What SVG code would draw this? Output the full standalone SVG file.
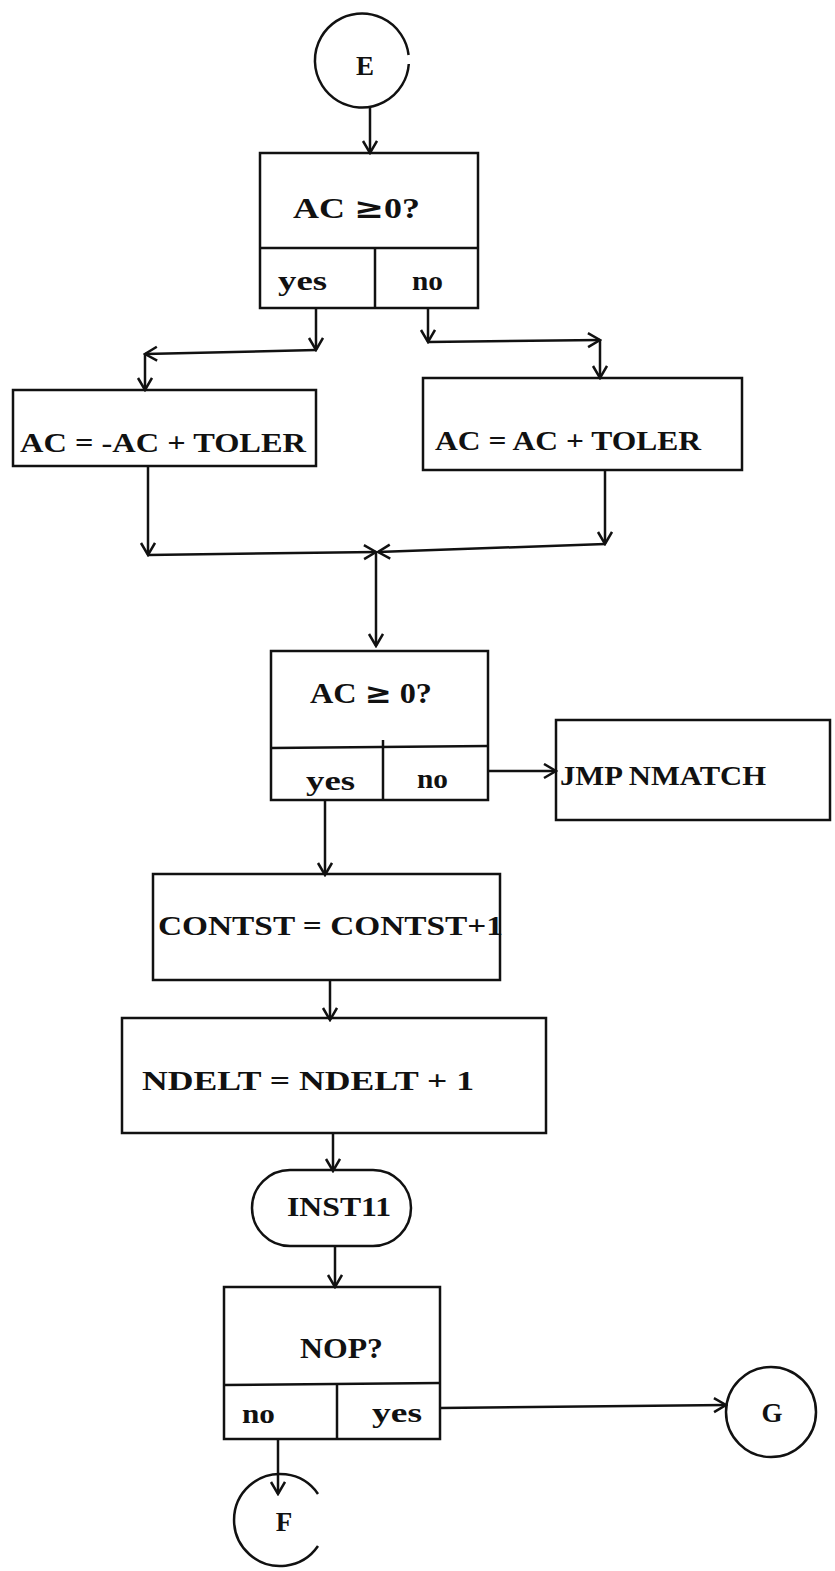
<svg xmlns="http://www.w3.org/2000/svg" width="835" height="1571" viewBox="0 0 835 1571">
<style>
.s{fill:none;stroke:#111;stroke-width:2.5}
.t{font-family:"Liberation Serif",serif;font-weight:bold;font-size:27px;fill:#111}
.q{font-family:"Liberation Serif",serif;font-weight:bold;font-size:29px;fill:#111}
.g{font-family:"DejaVu Serif",serif;font-weight:bold}
.l{font-family:"Liberation Serif",serif;font-weight:bold;font-size:27px;fill:#111}
.c{stroke:#111;stroke-width:2.5;fill:none;marker-end:url(#a)}
</style>
<defs>
<marker id="a" markerUnits="userSpaceOnUse" markerWidth="16" markerHeight="18" refX="14" refY="8" orient="auto">
<path d="M2,1 L14,8 L2,15" fill="none" stroke="#111" stroke-width="2.5"/>
</marker>
</defs>
<rect width="835" height="1571" fill="#fff"/>
<g id="E">
<path class="s" d="M408.8,64 A47,47 0 1 1 408.6,55"/>
<text class="l" x="365" y="75" text-anchor="middle" font-size="29">E</text>
</g>
<g id="dec1">
<rect class="s" x="260" y="153" width="218" height="155"/>
<line class="s" x1="260" y1="248" x2="478" y2="248"/>
<line class="s" x1="375" y1="248" x2="375" y2="308"/>
<text class="q" x="293" y="218" textLength="127" lengthAdjust="spacingAndGlyphs">AC <tspan class="g">≥</tspan>0?</text>
<text class="l" x="278" y="290" textLength="49" lengthAdjust="spacingAndGlyphs">yes</text>
<text class="l" x="412" y="290" textLength="31" lengthAdjust="spacingAndGlyphs">no</text>
</g>
<g id="left">
<rect class="s" x="13" y="390" width="303" height="76"/>
<text class="t" x="20" y="452" textLength="286" lengthAdjust="spacingAndGlyphs">AC = -AC + TOLER</text>
</g>
<g id="right">
<rect class="s" x="423" y="378" width="319" height="92"/>
<text class="t" x="435" y="450" textLength="266" lengthAdjust="spacingAndGlyphs">AC = AC + TOLER</text>
</g>
<g id="dec2">
<rect class="s" x="271" y="651" width="217" height="149"/>
<line class="s" x1="271" y1="748" x2="488" y2="746"/>
<line class="s" x1="383" y1="740" x2="383" y2="800"/>
<text class="q" x="310" y="703" textLength="122" lengthAdjust="spacingAndGlyphs">AC <tspan class="g">≥</tspan> 0?</text>
<text class="l" x="306" y="790" textLength="49" lengthAdjust="spacingAndGlyphs">yes</text>
<text class="l" x="417" y="788" textLength="31" lengthAdjust="spacingAndGlyphs">no</text>
</g>
<g id="jmp">
<rect class="s" x="556" y="720" width="274" height="100"/>
<text class="t" x="560" y="785" textLength="206" lengthAdjust="spacingAndGlyphs">JMP NMATCH</text>
</g>
<g id="contst">
<rect class="s" x="153" y="874" width="347" height="106"/>
<text class="t" x="158" y="935" textLength="345" lengthAdjust="spacingAndGlyphs">CONTST = CONTST+1</text>
</g>
<g id="ndelt">
<rect class="s" x="122" y="1018" width="424" height="115"/>
<text class="t" x="142" y="1090" textLength="332" lengthAdjust="spacingAndGlyphs">NDELT = NDELT + 1</text>
</g>
<g id="inst11">
<rect class="s" x="252" y="1170" width="159" height="76" rx="38" ry="38"/>
<text class="t" x="287" y="1216" textLength="104" lengthAdjust="spacingAndGlyphs">INST11</text>
</g>
<g id="nop">
<rect class="s" x="224" y="1287" width="216" height="152"/>
<line class="s" x1="224" y1="1385" x2="440" y2="1383"/>
<line class="s" x1="337" y1="1383" x2="337" y2="1439"/>
<text class="q" x="300" y="1358" textLength="83" lengthAdjust="spacingAndGlyphs">NOP?</text>
<text class="l" x="242" y="1423" textLength="33" lengthAdjust="spacingAndGlyphs">no</text>
<text class="l" x="372" y="1422" textLength="50" lengthAdjust="spacingAndGlyphs">yes</text>
</g>
<g id="G">
<circle class="s" cx="771" cy="1412" r="45"/>
<text class="l" x="772" y="1422" text-anchor="middle" font-size="29">G</text>
</g>
<g id="F">
<path class="s" d="M318,1494 A46,46 0 1 0 318,1546"/>
<text class="l" x="284" y="1531" text-anchor="middle" font-size="29">F</text>
</g>
<g id="connectors">
<line class="c" x1="370" y1="107" x2="370" y2="153"/>
<line class="c" x1="316" y1="308" x2="316" y2="350"/>
<line class="c" x1="316" y1="350" x2="145" y2="354"/>
<line class="c" x1="145" y1="354" x2="145" y2="390"/>
<line class="c" x1="428" y1="308" x2="428" y2="342"/>
<line class="c" x1="428" y1="342" x2="600" y2="340"/>
<line class="c" x1="600" y1="340" x2="600" y2="378"/>
<line class="c" x1="148" y1="466" x2="148" y2="555"/>
<line class="c" x1="148" y1="555" x2="376" y2="552"/>
<line class="c" x1="605" y1="470" x2="605" y2="544"/>
<line class="c" x1="605" y1="544" x2="378" y2="552"/>
<line class="c" x1="376" y1="552" x2="376" y2="646"/>
<line class="c" x1="488" y1="771" x2="556" y2="771"/>
<line class="c" x1="325" y1="800" x2="325" y2="875"/>
<line class="c" x1="330" y1="980" x2="330" y2="1020"/>
<line class="c" x1="333" y1="1133" x2="333" y2="1171"/>
<line class="c" x1="335" y1="1246" x2="335" y2="1287"/>
<line class="c" x1="440" y1="1408" x2="726" y2="1405"/>
<line class="c" x1="278" y1="1439" x2="278" y2="1494"/>
</g>
</svg>
